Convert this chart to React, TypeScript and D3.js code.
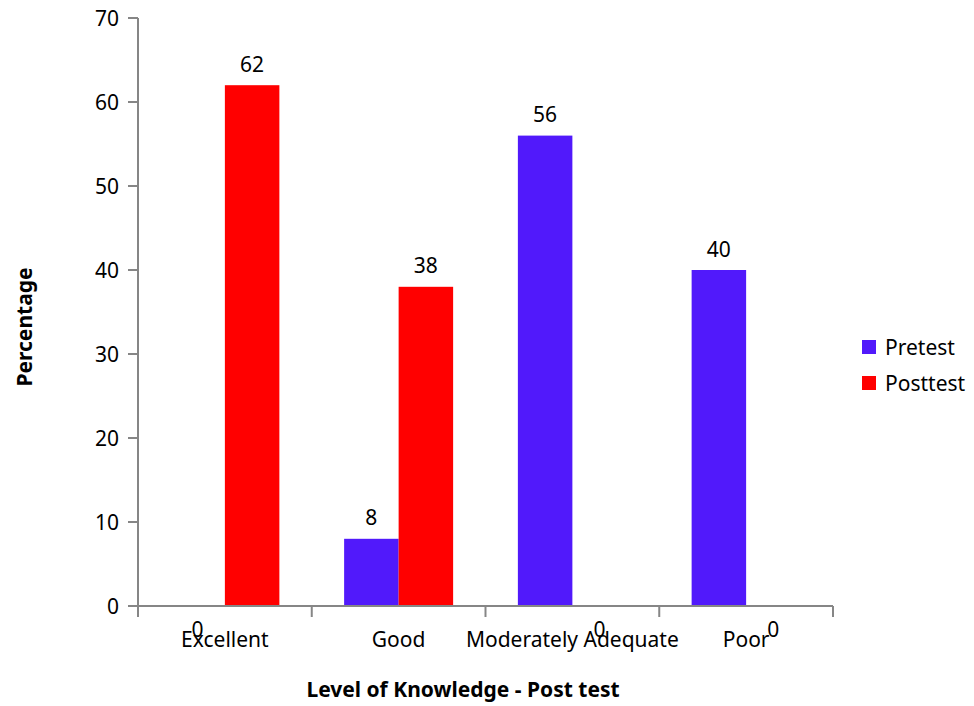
import React from "react";
import * as d3 from "d3";

const categories = ["Excellent", "Good", "Moderately Adequate", "Poor"];
const seriesNames = ["Pretest", "Posttest"];
const pretest = [0, 8, 56, 40];
const posttest = [62, 38, 0, 0];
const yTicks = [0, 10, 20, 30, 40, 50, 60, 70];

const colors = ["#5119FB", "#FF0000"];
const font = "'Noto Sans', 'Open Sans', sans-serif";
const fs = 21;

export default function App() {
  const width = 974;
  const height = 706;
  const left = 138;
  const right = 833;
  const top = 18;
  const bottom = 606;

  const x = d3.scaleBand<string>().domain(categories).range([left, right]).paddingInner(0).paddingOuter(0);
  const inner = d3
    .scaleBand<string>()
    .domain(seriesNames)
    .range([0, x.bandwidth()])
    .paddingOuter(0.594)
    .paddingInner(0);
  const y = d3.scaleLinear().domain([0, 70]).range([bottom, top]);

  const values = [pretest, posttest];
  const boundaries = d3.range(categories.length + 1).map((i) => left + i * x.step());

  return (
    <svg width={width} height={height} style={{ position: "absolute", left: 0, top: 0, background: "#fff" }}>
      {/* bars */}
      {values.map((vals, s) =>
        vals.map((v, i) => {
          const bx = (x(categories[i]) as number) + (inner(seriesNames[s]) as number);
          return (
            <rect
              key={`${s}-${i}`}
              x={bx}
              y={y(v)}
              width={inner.bandwidth()}
              height={bottom - y(v)}
              fill={colors[s]}
            />
          );
        })
      )}

      {/* y axis */}
      <line x1={left} x2={left} y1={top} y2={bottom} stroke="#868686" strokeWidth={2} />
      {yTicks.map((t) => (
        <g key={t}>
          <line x1={left - 10} x2={left} y1={y(t)} y2={y(t)} stroke="#868686" strokeWidth={2} />
          <text x={left - 19} y={y(t) + 7.5} textAnchor="end" fontFamily={font} fontSize={fs} fill="#000">
            {t}
          </text>
        </g>
      ))}

      {/* x axis */}
      <line x1={left} x2={right} y1={bottom} y2={bottom} stroke="#868686" strokeWidth={2} />
      {boundaries.map((bx, i) => (
        <line key={i} x1={bx} x2={bx} y1={bottom} y2={bottom + 11} stroke="#868686" strokeWidth={2} />
      ))}
      {categories.map((c) => (
        <text
          key={c}
          x={(x(c) as number) + x.bandwidth() / 2}
          y={647}
          textAnchor="middle"
          fontFamily={font}
          fontSize={fs}
          fill="#000"
        >
          {c}
        </text>
      ))}

      {/* value labels */}
      {values.map((vals, s) =>
        vals.map((v, i) => {
          const cx = (x(categories[i]) as number) + (inner(seriesNames[s]) as number) + inner.bandwidth() / 2;
          const ly = v === 0 ? 637 : y(v) - 13.5;
          return (
            <text key={`l${s}-${i}`} x={cx} y={ly} textAnchor="middle" fontFamily={font} fontSize={fs} fill="#000">
              {v}
            </text>
          );
        })
      )}

      {/* axis titles */}
      <text
        x={463}
        y={697}
        textAnchor="middle"
        fontFamily={font}
        fontSize={fs}
        fontWeight="bold"
        fill="#000"
      >
        Level of Knowledge - Post test
      </text>
      <text
        transform="translate(32,327) rotate(-90)"
        textAnchor="middle"
        fontFamily={font}
        fontSize={fs}
        fontWeight="bold"
        fill="#000"
      >
        Percentage
      </text>

      {/* legend */}
      {seriesNames.map((n, s) => (
        <g key={n} transform={`translate(862,${340 + s * 36})`}>
          <rect x={0} y={0} width={14} height={14} fill={colors[s]} />
          <text x={23} y={15} fontFamily={font} fontSize={fs} fill="#000">
            {n}
          </text>
        </g>
      ))}
    </svg>
  );
}
